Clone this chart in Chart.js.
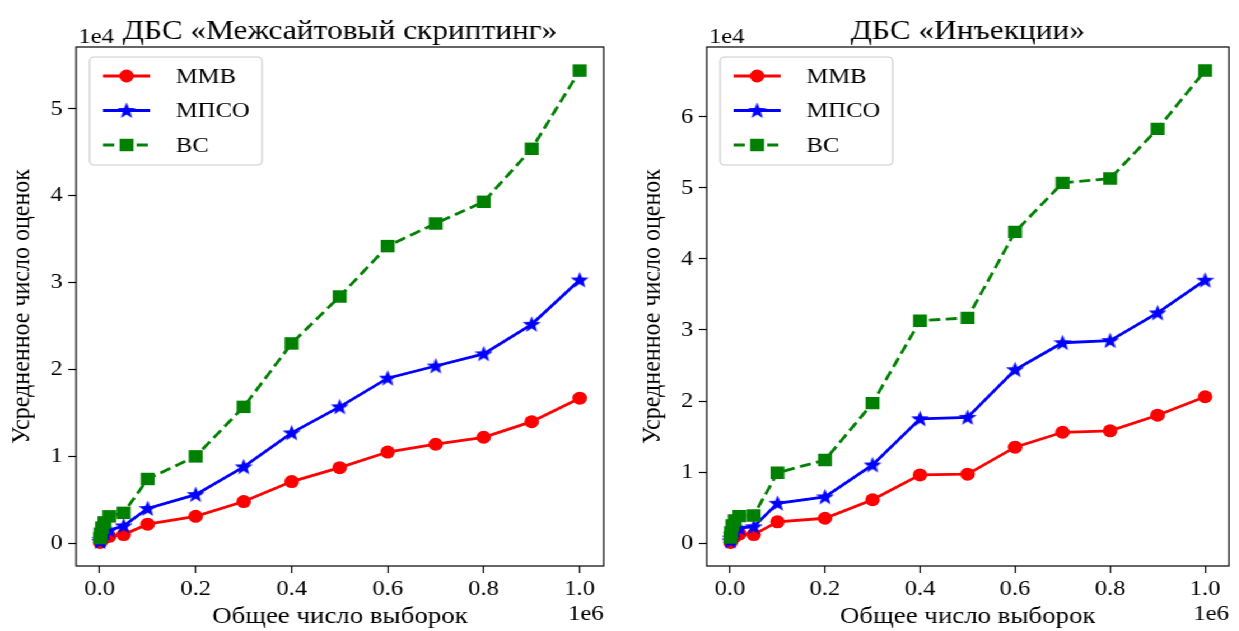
<!DOCTYPE html>
<html lang="ru">
<head>
<meta charset="utf-8">
<title>ДБС</title>
<script src="https://cdn.jsdelivr.net/npm/chart.js@4.4.0/dist/chart.umd.min.js"></script>
<style>
  body { margin: 0; background: #fff; overflow: hidden; }
  /* figure is laid out narrow and widened a little, as in the saved plot */
  #fig { position: absolute; left: 0; top: 0; width: 1106px; height: 631px;
         transform: scaleX(1.12); transform-origin: 0 0; }
  .pane { position: absolute; top: 0; height: 631px; width: 553px; }
  #paneXss { left: 0; }
  #paneInj { left: 553px; }
</style>
</head>
<body>
<div id="fig">
  <div class="pane" id="paneXss"><canvas id="xss" width="553" height="631"></canvas></div>
  <div class="pane" id="paneInj"><canvas id="inj" width="553" height="631"></canvas></div>
</div>
<script>
// total number of samples (x axis)
const sampleCounts = [1000, 2000, 5000, 10000, 20000, 50000, 100000, 200000, 300000,
                      400000, 500000, 600000, 700000, 800000, 900000, 1000000];

// cross-site scripting
const xssMMB  = [100, 250, 450, 650, 800, 1000, 2200, 3100, 4800, 7100, 8700, 10500, 11400, 12200, 14000, 16700];
const xssMPSO = [200, 450, 800, 1200, 1500, 2000, 4000, 5600, 8800, 12700, 15700, 19000, 20400, 21800, 25200, 30300];
const xssBC   = [600, 1100, 1800, 2400, 3100, 3500, 7400, 10000, 15700, 23000, 28400, 34200, 36800, 39300, 45400, 54400];

// injections
const injMMB  = [100, 300, 600, 900, 1300, 1200, 3000, 3500, 6100, 9600, 9700, 13500, 15600, 15800, 18000, 20600];
const injMPSO = [300, 700, 1200, 1700, 2100, 2300, 5600, 6500, 11000, 17500, 17700, 24400, 28200, 28500, 32400, 37000];
const injBC   = [800, 1500, 2500, 3200, 3800, 3900, 9900, 11700, 19700, 31300, 31700, 43800, 50700, 51300, 58300, 66500];

const seriesNames = ['ММВ', 'МПСО', 'ВС'];
const xTicks = [0, 200000, 400000, 600000, 800000, 1000000];
const yTicksXss = [0, 10000, 20000, 30000, 40000, 50000];
const yTicksInj = [0, 10000, 20000, 30000, 40000, 50000, 60000];

const serif = "'Liberation Serif', 'Times New Roman', serif";
Chart.defaults.color = '#000';

// filled five-point star like matplotlib '*'
function starMarker(color, size) {
  const c = document.createElement('canvas');
  c.width = c.height = size;
  const g = c.getContext('2d');
  const R = size / 2, r = R * 0.42;
  g.beginPath();
  for (let i = 0; i < 10; i++) {
    const a = -Math.PI / 2 + i * Math.PI / 5;
    const rad = i % 2 ? r : R;
    g.lineTo(R + rad * Math.cos(a), R + 0.5 + rad * Math.sin(a));
  }
  g.closePath();
  g.fillStyle = color;
  g.fill();
  return c;
}
const blueStar = starMarker('#0000ff', 17);

function drawMarker(ctx, ds, x, y) {
  const st = ds.pointStyle;
  ctx.fillStyle = ds.pointBackgroundColor;
  if (st === 'circle') {
    ctx.beginPath(); ctx.arc(x, y, ds.pointRadius, 0, Math.PI * 2); ctx.fill();
  } else if (st === 'rect') {
    const h = ds.pointRadius * Math.SQRT1_2;
    ctx.fillRect(x - h, y - h, 2 * h, 2 * h);
  } else {
    ctx.drawImage(st, x - st.width / 2, y - st.height / 2);
  }
}

// box, title, offset labels and the in-axes legend
const framePlugin = {
  id: 'frame',
  afterDatasetsDraw(chart) {
    const ctx = chart.ctx, a = chart.chartArea;
    ctx.save();
    ctx.font = '22px ' + serif;
    const dss = chart.data.datasets;
    let tw = 0;
    dss.forEach(d => tw = Math.max(tw, ctx.measureText(d.label).width));
    const bx = a.left + 12, by = a.top + 10, bw = 77 + tw + 11, bh = 108;
    ctx.beginPath();
    ctx.roundRect(bx, by, bw, bh, 4);
    ctx.fillStyle = 'rgba(255,255,255,0.85)';
    ctx.fill();
    ctx.strokeStyle = '#cccccc';
    ctx.lineWidth = 1.2;
    ctx.stroke();
    dss.forEach((d, i) => {
      const ly = by + 19 + i * 34.5;
      ctx.beginPath();
      ctx.setLineDash(d.borderDash || []);
      ctx.strokeStyle = d.borderColor;
      ctx.lineWidth = d.borderWidth;
      ctx.moveTo(bx + 12, ly); ctx.lineTo(bx + 54, ly);
      ctx.stroke();
      ctx.setLineDash([]);
      drawMarker(ctx, d, bx + 33, ly);
      ctx.fillStyle = '#000';
      ctx.textBaseline = 'middle';
      ctx.textAlign = 'left';
      ctx.fillText(d.label, bx + 77, ly + 1);
    });
    ctx.restore();
  },
  afterDraw(chart, args, opts) {
    const ctx = chart.ctx, a = chart.chartArea;
    ctx.save();
    ctx.strokeStyle = '#000';
    ctx.lineWidth = 1.2;
    ctx.strokeRect(a.left, a.top, a.right - a.left, a.bottom - a.top);
    ctx.fillStyle = '#000';
    ctx.textBaseline = 'alphabetic';
    ctx.font = '28px ' + serif;
    ctx.textAlign = 'center';
    ctx.fillText(opts.title, (a.left + a.right) / 2, 39);
    ctx.font = '22px ' + serif;
    ctx.textAlign = 'left';
    ctx.fillText('1e4', a.left + 2, a.top - 4);
    ctx.textAlign = 'right';
    ctx.fillText('1e6', a.right, 620);
    ctx.restore();
  }
};

function padded(vals) {
  const lo = Math.min(...vals), hi = Math.max(...vals), m = (hi - lo) * 0.05;
  return [lo - m, hi + m];
}

function makeChart(id, title, mmb, mpso, bc, yTicks, yWidth, rightPad) {
  const pts = v => sampleCounts.map((x, i) => ({x: x, y: v[i]}));
  const [xMin, xMax] = padded(sampleCounts);
  const [yMin, yMax] = padded(mmb.concat(mpso, bc));
  const tickFont = {family: serif, size: 22};
  const labelFont = {family: serif, size: 24};
  const tickGrid = {display: true, drawOnChartArea: false, drawTicks: true,
                    tickLength: 7, tickColor: '#000', tickWidth: 1.2};
  return new Chart(document.getElementById(id), {
    type: 'line',
    data: {
      datasets: [
        {label: seriesNames[0], data: pts(mmb), order: 2, borderColor: '#ff0000', borderWidth: 2.8,
         pointStyle: 'circle', pointRadius: 6.5, pointBackgroundColor: '#ff0000', pointBorderWidth: 0},
        {label: seriesNames[1], data: pts(mpso), order: 1, borderColor: '#0000ff', borderWidth: 2.8,
         pointStyle: blueStar, pointRadius: 8, pointBackgroundColor: '#0000ff', pointBorderWidth: 0},
        {label: seriesNames[2], data: pts(bc), order: 0, borderColor: '#008000', borderWidth: 2.8,
         borderDash: [10, 5], pointStyle: 'rect', pointRadius: 8.8, pointBackgroundColor: '#008000',
         pointBorderWidth: 0}
      ]
    },
    options: {
      responsive: false,
      animation: false,
      layout: {padding: {top: 47, right: rightPad, left: 0, bottom: 0}},
      plugins: {
        legend: {display: false},
        tooltip: {enabled: false},
        frame: {title: title}
      },
      scales: {
        x: {
          type: 'linear', min: xMin, max: xMax,
          afterBuildTicks: s => { s.ticks = xTicks.map(v => ({value: v})); },
          ticks: {callback: v => (v / 1e6).toFixed(1), font: tickFont, padding: 3,
                  maxRotation: 0, autoSkip: false},
          grid: tickGrid,
          border: {display: false},
          title: {display: true, text: 'Общее число выборок', font: labelFont,
                  padding: {top: 0, bottom: 0}},
          afterFit: s => { s.height = 65; }
        },
        y: {
          type: 'linear', min: yMin, max: yMax,
          afterBuildTicks: s => { s.ticks = yTicks.map(v => ({value: v})); },
          ticks: {callback: v => String(v / 1e4), font: tickFont, padding: 5},
          grid: tickGrid,
          border: {display: false},
          title: {display: true, text: 'Усредненное число оценок', font: labelFont,
                  padding: {top: yWidth - 62.5, bottom: 0}},
          afterFit: s => { s.width = yWidth; }
        }
      }
    },
    plugins: [framePlugin]
  });
}

makeChart('xss', 'ДБС «Межсайтовый скриптинг»', xssMMB, xssMPSO, xssBC, yTicksXss, 68, 14);
makeChart('inj', 'ДБС «Инъекции»', injMMB, injMPSO, injBC, yTicksInj, 78, 1);
</script>
</body>
</html>
